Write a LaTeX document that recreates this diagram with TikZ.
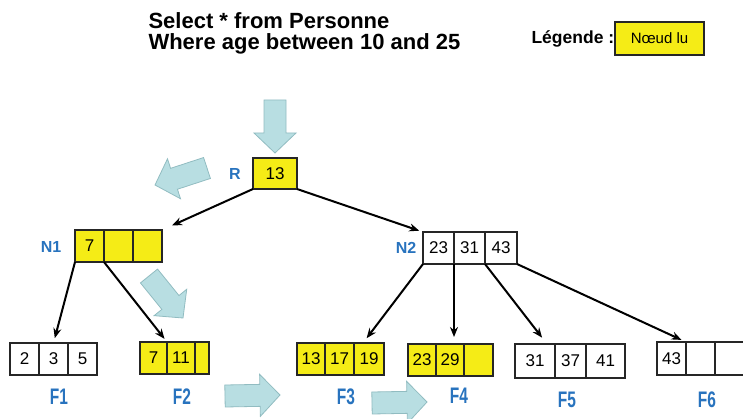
\documentclass[tikz,border=0pt]{standalone}
\usepackage{fontspec}
\setmainfont{Liberation Sans}
\usetikzlibrary{calc,arrows.meta,shadows}

\definecolor{jaune}{RGB}{245,236,22}
\definecolor{bleu}{RGB}{40,115,190}
\definecolor{ciel}{RGB}{184,222,226}
\definecolor{cielbord}{RGB}{145,188,193}

% grosse fleche : queue, pointe
\newcommand{\grossefleche}[2]{%
  \coordinate (h) at ($(#2)!20pt!(#1)$);
  \draw[grossefleche] ($(#1)!11pt!90:(#2)$) -- ($(h)!11pt!90:(#2)$) -- ($(h)!21pt!90:(#2)$) -- (#2)
    -- ($(h)!21pt!-90:(#2)$) -- ($(h)!11pt!-90:(#2)$) -- ($(#1)!11pt!-90:(#2)$) -- cycle;
}
\newcommand{\etiq}[1]{\scalebox{1}[1.45]{#1}}

\begin{document}
\begin{tikzpicture}[x=1pt,y=-1pt,
    cellule/.style={draw=black!85,fill=white,line width=1.2pt,minimum height=32pt,inner sep=0pt,outer sep=0pt,
      anchor=north west,font=\fontsize{17}{17}\selectfont,
      drop shadow={shadow xshift=0.6pt,shadow yshift=-1.4pt,fill=black!60,opacity=1}},
    lu/.style={fill=jaune},
    nom/.style={text=bleu,font=\bfseries\fontsize{16}{16}\selectfont},
    feuille/.style={text=bleu,font=\bfseries\fontsize{15.5}{16}\selectfont},
    lien/.style={-{Stealth[length=10pt,width=8pt]},line width=2pt},
    grossefleche/.style={fill=ciel,draw=cielbord,line width=0.8pt}]
    \useasboundingbox (0,0) rectangle (743,419);

    % requete
    \node[anchor=base west,font=\bfseries\fontsize{22}{22}\selectfont] (req1) at (145,29) {Select * from Personne};
    \node[anchor=base west,font=\bfseries\fontsize{22}{22}\selectfont] (req2) at (145,50) {Where age between 10 and 25};

    % legende
    \node[anchor=base west,font=\bfseries\fontsize{17.5}{18}\selectfont] (leg) at (528,44) {Légende :};
    \node[draw=black!85,fill=jaune,line width=1.2pt,minimum width=89pt,minimum height=33pt,inner sep=0pt,
      font=\fontsize{15}{15}\selectfont,drop shadow={shadow xshift=0.8pt,shadow yshift=-1.4pt,fill=black!60,opacity=1}]
      (nlu) at (659.5,38.5) {Nœud lu};

    % racine
    \node[cellule,lu,minimum width=44pt,minimum height=31pt] (r) at (253,158) {13};
    \node[nom] (nomR) at (235,174) {R};

    % N1
    \node[cellule,lu,minimum width=29pt] (n1a) at (75,230) {7};
    \node[cellule,lu,minimum width=29pt] (n1b) at (n1a.north east) {};
    \node[cellule,lu,minimum width=29pt] (n1c) at (n1b.north east) {};
    \node[nom] (nomN1) at (51,247) {N1};

    % N2
    \node[cellule,minimum width=31pt] (n2a) at (423,232) {23};
    \node[cellule,minimum width=31pt] (n2b) at (n2a.north east) {31};
    \node[cellule,minimum width=32pt] (n2c) at (n2b.north east) {43};
    \node[nom] (nomN2) at (406,248) {N2};

    % feuilles
    \node[cellule,minimum width=29pt] (f1a) at (10,343) {2};
    \node[cellule,minimum width=29pt] (f1b) at (f1a.north east) {3};
    \node[cellule,minimum width=29pt] (f1c) at (f1b.north east) {5};
    \node[feuille] (nomF1) at (59,397) {\etiq{F1}};

    \node[cellule,lu,minimum width=27pt] (f2a) at (140,342) {7};
    \node[cellule,lu,minimum width=28pt] (f2b) at (f2a.north east) {11};
    \node[cellule,lu,minimum width=14pt] (f2c) at (f2b.north east) {};
    \node[feuille] (nomF2) at (182,397) {\etiq{F2}};

    \node[cellule,lu,minimum width=28pt] (f3a) at (297,343) {13};
    \node[cellule,lu,minimum width=29pt] (f3b) at (f3a.north east) {17};
    \node[cellule,lu,minimum width=30pt] (f3c) at (f3b.north east) {19};
    \node[feuille] (nomF3) at (346,397) {\etiq{F3}};

    \node[cellule,lu,minimum width=28pt] (f4a) at (408,344) {23};
    \node[cellule,lu,minimum width=28pt] (f4b) at (f4a.north east) {29};
    \node[cellule,lu,minimum width=29pt] (f4c) at (f4b.north east) {};
    \node[feuille] (nomF4) at (459,396) {\etiq{F4}};

    \node[cellule,minimum width=40pt,minimum height=34pt] (f5a) at (515,344) {31};
    \node[cellule,minimum width=31pt,minimum height=34pt] (f5b) at (f5a.north east) {37};
    \node[cellule,minimum width=39pt,minimum height=34pt] (f5c) at (f5b.north east) {41};
    \node[feuille] (nomF5) at (567,400) {\etiq{F5}};

    \node[cellule,minimum width=29pt,minimum height=33pt] (f6a) at (657,342) {43};
    \node[cellule,minimum width=29pt,minimum height=33pt] (f6b) at (f6a.north east) {};
    \node[cellule,minimum width=29pt,minimum height=33pt] (f6c) at (f6b.north east) {};
    \node[feuille] (nomF6) at (707,400) {\etiq{F6}};

    % liens
    \draw[lien,shorten >=11pt] (r.south west) -- (n1c.north east);
    \draw[lien,shorten >=4pt] (r.south east) -- (n2a.north west);
    \draw[lien,shorten >=5pt] (n1a.south west) -- (f1b.north);
    \draw[lien,shorten >=4pt] (n1a.south east) -- (f2b.north west);
    \draw[lien,shorten >=6pt] (n2a.south west) -- ([xshift=9pt]f3c.north west);
    \draw[lien,shorten >=7pt] (n2b.south west) -- (n2b.south west |- f4b.north);
    \draw[lien,shorten >=8pt] (n2c.south west) -- ([xshift=-8pt]f5a.north east);
    \draw[lien,shorten >=5pt] (n2c.south east) -- (f6b.north west);

    % parcours
    \grossefleche{275,100}{275,153}
    \grossefleche{207,168}{155,185}
    \grossefleche{149,276}{183,318}
    \grossefleche{225,396}{280,395}
    \grossefleche{372,403}{427,402}
\end{tikzpicture}
\end{document}
